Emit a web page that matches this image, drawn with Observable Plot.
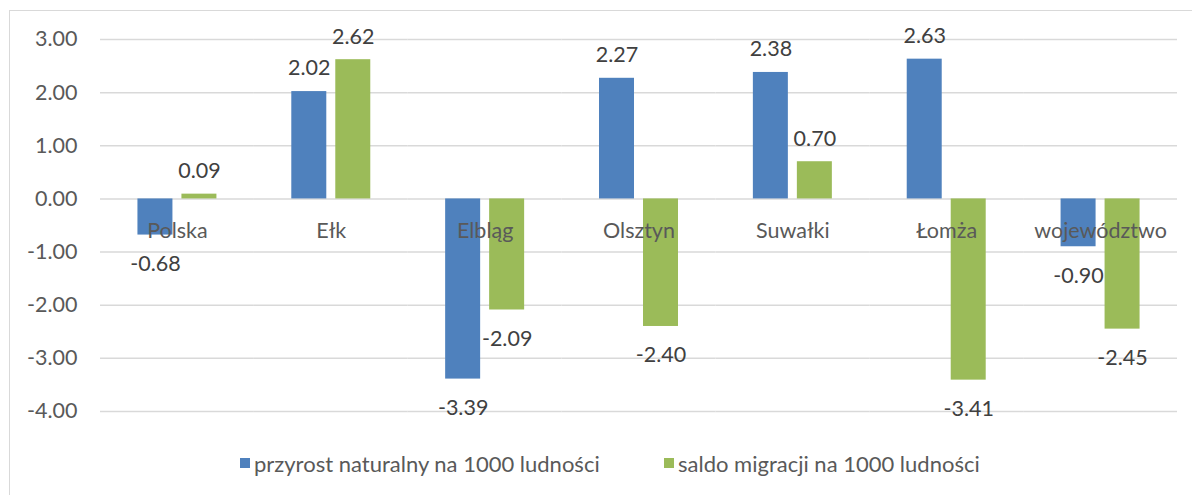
<!DOCTYPE html>
<html>
<head>
<meta charset="utf-8">
<script src="https://cdn.jsdelivr.net/npm/d3@7"></script>
<script src="https://cdn.jsdelivr.net/npm/@observablehq/plot@0.6"></script>
<style>
  html, body { margin: 0; padding: 0; background: #fff; }
  body { width: 1192px; height: 495px; overflow: hidden; position: relative; font-family: Lato, "Open Sans", sans-serif; }
  #frame { position: absolute; left: 9px; top: 10px; width: 1200px; height: 500px; border: 1.5px solid #d9d9d9; box-sizing: border-box; }
  #chart { position: absolute; left: 0; top: 0; }
  #legend { position: absolute; top: 450px; left: 0; width: 1192px; height: 26px; font-size: 22px; color: #595959; }
  .item { position: absolute; top: 0; display: flex; align-items: center; height: 26px; }
  .sw { width: 10px; height: 10px; margin-right: 4px; }
</style>
</head>
<body>
<div id="frame"></div>
<div id="chart"></div>
<div id="legend"></div>
<script>
const categories = ["Polska", "Ełk", "Elbląg", "Olsztyn", "Suwałki", "Łomża", "województwo"];
const seriesNames = ["przyrost naturalny na 1000 ludności", "saldo migracji na 1000 ludności"];
const przyrost = [-0.68, 2.02, -3.39, 2.27, 2.38, 2.63, -0.90];
const saldo = [0.09, 2.62, -2.09, -2.40, 0.70, -3.41, -2.45];
const yTicks = [3, 2, 1, 0, -1, -2, -3, -4];
const colors = ["#4F81BD", "#9BBB59"];

const data = [];
categories.forEach((c, i) => {
  data.push({cat: c, series: seriesNames[0], value: przyrost[i]});
  data.push({cat: c, series: seriesNames[1], value: saldo[i]});
});
const fontFam = "Lato, 'Open Sans', sans-serif";

const chart = Plot.plot({
  width: 1192,
  height: 495,
  marginLeft: 100,
  marginRight: 15,
  marginTop: 39,
  marginBottom: 84,
  style: {fontFamily: fontFam, background: "transparent"},
  fx: {domain: categories, padding: 0, axis: null, round: false},
  x: {domain: seriesNames, paddingInner: 0.2045, paddingOuter: 0.851, axis: null, round: false},
  y: {domain: [-4, 3], axis: null},
  color: {domain: seriesNames, range: colors},
  marks: [
    Plot.ruleY(yTicks, {stroke: "#d9d9d9", strokeWidth: 1.5}),
    Plot.axisY(yTicks, {tickSize: 0, tickPadding: 23, tickFormat: d => d.toFixed(2), fontSize: 21.5, fill: "#595959", label: null}),
    Plot.barY(data, {fx: "cat", x: "series", y: "value", fill: "series"}),
    Plot.text(categories, {fx: d => d, y: () => 0, text: d => d, dy: 32, fontSize: 21.5, fill: "#595959"}),
    Plot.text(data.filter(d => d.value >= 0), {fx: "cat", x: "series", y: "value", text: d => d.value.toFixed(2),
      dy: -23, fontSize: 21.5, fill: "#404040"}),
    Plot.text(data.filter(d => d.value < 0), {fx: "cat", x: "series", y: "value", text: d => d.value.toFixed(2),
      dy: 29, fontSize: 21.5, fill: "#404040"})
  ]
});
document.getElementById("chart").appendChild(chart);

const legend = document.getElementById("legend");
const legendX = [240, 664];
seriesNames.forEach((s, i) => {
  const it = document.createElement("div");
  it.className = "item";
  it.style.left = legendX[i] + "px";
  const sw = document.createElement("div");
  sw.className = "sw";
  sw.style.background = colors[i];
  const t = document.createElement("span");
  t.textContent = s;
  it.appendChild(sw);
  it.appendChild(t);
  legend.appendChild(it);
});
</script>
</body>
</html>
